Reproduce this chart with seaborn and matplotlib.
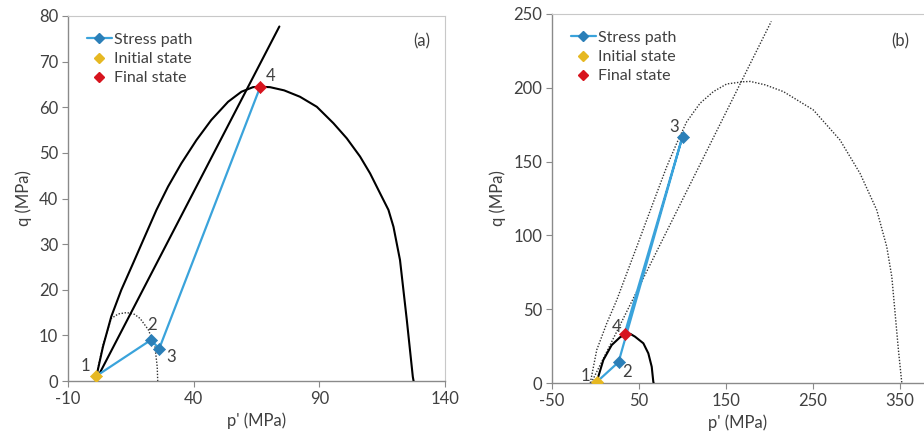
import matplotlib
matplotlib.use("Agg")
import matplotlib.pyplot as plt
from matplotlib.lines import Line2D
import seaborn as sns
import pandas as pd

sns.set_theme(style="white")
plt.rcParams['font.family'] = ['Lato', 'DejaVu Sans']

# ---------------- Panel (a) data ----------------
a_path_p = [1.0, 23.0, 26.3, 66.5]
a_path_q = [1.0, 9.0, 7.1, 64.5]
a_labels = ["1", "2", "3", "4"]
a_label_p = [-3.2, 23.3, 31.0, 70.8]
a_label_q = [3.3, 12.3, 5.3, 66.8]

a_yield_p = [1.3, 3.9, 7.2, 11.2, 15.9, 20.5, 25.2, 29.8, 35.1, 41.1, 47.0, 53.7, 59.0,
             63.6, 66.4, 70.4, 76.0, 82.3, 89.0, 95.6, 100.9, 106.2, 110.2, 114.2,
             117.5, 119.5, 122.1, 124.8, 127.2, 127.5]
a_yield_q = [1.0, 7.5, 14.1, 19.95, 25.8, 31.6, 37.5, 42.6, 47.7, 52.8, 57.2, 61.2, 63.4,
             64.4, 64.5, 64.4, 63.7, 62.3, 60.1, 56.5, 53.2, 49.2, 45.5, 41.1,
             37.5, 33.8, 26.5, 13.4, 0.9, 0.0]

a_init_p = [1.3, 4.0, 7.2, 10.0, 13.4, 16.5, 18.7, 22.0, 24.6, 25.5, 25.7]
a_init_q = [1.3, 8.0, 13.7, 14.7, 15.0, 14.6, 13.7, 11.2, 7.5, 3.1, 0.0]

a_csl_p = [1.0, 74.1]
a_csl_q = [0.0, 77.7]

# ---------------- Panel (b) data ----------------
b_path_p = [2.0, 26.5, 100.0, 33.5]
b_path_q = [1.0, 14.2, 167.0, 33.5]
b_labels = ["1", "2", "3", "4"]
b_label_p = [-12.0, 36.0, 90.6, 24.4]
b_label_q = [4.7, 7.7, 173.6, 38.1]

b_yield_p = [1.4, 3.2, 9.0, 18.6, 28.2, 33.9, 40.0, 45.4, 55.0, 60.7, 64.6, 66.4, 66.8]
b_yield_q = [1.0, 4.3, 15.6, 25.7, 31.0, 32.8, 33.3, 31.4, 26.9, 20.1, 11.0, 0.9, 0.0]

b_big_p = [-6.0, 1.4, 12.9, 24.4, 35.9, 47.4, 58.8, 70.3, 81.8, 93.3, 104.8, 120.1, 135.4,
           150.8, 169.9, 178.0, 195.0, 216.0, 250.3, 265.7, 281.0, 292.5, 304.0, 323.2,
           334.7, 340.5, 344.3, 348.1, 352.0]
b_big_q = [0.0, 22.4, 40.4, 56.2, 74.3, 92.3, 110.4, 128.5, 146.5, 162.4, 177.0, 189.5, 197.4,
           202.6, 204.1, 204.3, 202.0, 197.4, 185.0, 174.8, 164.6, 153.3, 142.0, 117.2,
           92.3, 72.0, 47.2, 22.4, 0.0]

b_csl_p = [-5.0, 202.0]
b_csl_q = [0.0, 245.0]

# ---------------- Styles ----------------
BLUE_LINE = "#3aa3db"
BLUE_MARK = "#2b7fb8"
YELLOW = "#e6b822"
RED = "#d7141e"
TXT = "#404040"
AXC = "#8a8a8a"
FS = 12

fig = plt.figure(figsize=(9.24, 4.37), dpi=100)
axA = fig.add_axes([68/924, 56/437, 377/924, 365/437])
axB = fig.add_axes([552/924, 54/437, 372/924, 369/437])


def curve(ax, p, q, **kw):
    df = pd.DataFrame({"p": p, "q": q})
    sns.lineplot(data=df, x="p", y="q", sort=False, estimator=None, ax=ax, **kw)


def style_axes(ax, xlim, ylim, xticks, yticks):
    ax.set_xlim(*xlim)
    ax.set_ylim(*ylim)
    ax.set_xticks(xticks)
    ax.set_yticks(yticks)
    ax.set_xticklabels([str(t) for t in xticks])
    ax.set_yticklabels([str(t) for t in yticks])
    ax.tick_params(axis="both", labelsize=FS, colors=TXT, length=4, width=0.8,
                   direction="out", pad=3)
    ax.tick_params(axis="both", color=AXC)
    ax.xaxis.set_ticks_position("bottom")
    ax.yaxis.set_ticks_position("left")
    for s in ["left", "bottom"]:
        ax.spines[s].set_color(AXC)
        ax.spines[s].set_linewidth(1.0)
    for s in ["top", "right"]:
        ax.spines[s].set_color("#c8c8c8")
        ax.spines[s].set_linewidth(0.8)
    ax.set_xlabel("p' (MPa)", fontsize=FS, color=TXT, labelpad=4)
    ax.set_ylabel("q (MPa)", fontsize=FS, color=TXT, labelpad=5)
    ax.grid(False)


def path_and_points(ax, pp, pq, lbls, lp, lq):
    curve(ax, pp, pq, color=BLUE_LINE, linewidth=1.6, zorder=4)
    dfm = pd.DataFrame({"p": pp[1:-1], "q": pq[1:-1]})
    sns.scatterplot(data=dfm, x="p", y="q", marker="D", s=38, color=BLUE_MARK,
                    edgecolor=BLUE_MARK, linewidth=0.5, ax=ax, zorder=5)
    sns.scatterplot(x=[pp[0]], y=[pq[0]], marker="D", s=38, color=YELLOW,
                    edgecolor=YELLOW, ax=ax, zorder=6)
    sns.scatterplot(x=[pp[-1]], y=[pq[-1]], marker="D", s=38, color=RED,
                    edgecolor=RED, ax=ax, zorder=6)
    for t, x, y in zip(lbls, lp, lq):
        ax.text(x, y, t, fontsize=FS, color=TXT, ha="center", va="center", zorder=7)


def legend(ax):
    handles = [
        Line2D([], [], color=BLUE_LINE, marker="D", markersize=5.5,
               markerfacecolor=BLUE_MARK, markeredgecolor=BLUE_MARK, linewidth=1.6),
        Line2D([], [], color="none", marker="D", markersize=5.5,
               markerfacecolor=YELLOW, markeredgecolor=YELLOW),
        Line2D([], [], color="none", marker="D", markersize=5.5,
               markerfacecolor=RED, markeredgecolor=RED),
    ]
    ax.legend(handles, ["Stress path", "Initial state", "Final state"],
              loc="upper left", bbox_to_anchor=(0.02, 0.985), frameon=False,
              fontsize=11.5, labelcolor=TXT, handlelength=1.6, handletextpad=0.1,
              labelspacing=0.32, borderaxespad=0.3)


# ---- Panel (a)
curve(axA, a_yield_p, a_yield_q, color="black", linewidth=1.5, zorder=3)
curve(axA, a_csl_p, a_csl_q, color="black", linewidth=1.5, zorder=3)
curve(axA, a_init_p, a_init_q, color="#333333", linewidth=1.0, linestyle=(0, (1, 1.2)), zorder=2)
path_and_points(axA, a_path_p, a_path_q, a_labels, a_label_p, a_label_q)
style_axes(axA, (-10, 140), (0, 80), [-10, 40, 90, 140], list(range(0, 81, 10)))
legend(axA)
axA.text(421.7/924, 1 - 41.7/437, "(a)", transform=fig.transFigure, fontsize=FS,
         color=TXT, ha="center", va="center")

# ---- Panel (b)
curve(axB, b_big_p, b_big_q, color="#333333", linewidth=1.0, linestyle=(0, (1, 1.2)), zorder=2)
curve(axB, b_csl_p, b_csl_q, color="#333333", linewidth=1.0, linestyle=(0, (1, 1.2)), zorder=2)
curve(axB, b_yield_p, b_yield_q, color="black", linewidth=1.5, zorder=3)
path_and_points(axB, b_path_p, b_path_q, b_labels, b_label_p, b_label_q)
style_axes(axB, (-50, 377.5), (0, 250), [-50, 50, 150, 250, 350], [0, 50, 100, 150, 200, 250])
axB.spines["right"].set_visible(False)
legend(axB)
axB.text(900/924, 1 - 41.7/437, "(b)", transform=fig.transFigure, fontsize=FS,
         color=TXT, ha="center", va="center")

fig.savefig("out.png", dpi=100)
